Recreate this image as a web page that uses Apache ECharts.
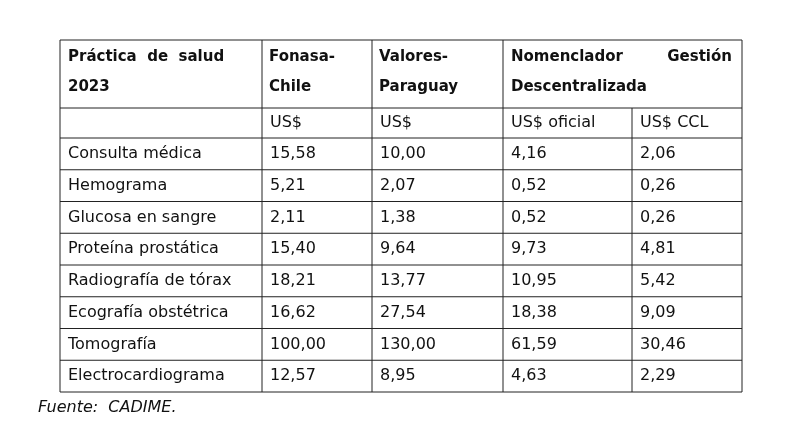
<!DOCTYPE html>
<html><head><meta charset="utf-8">
<script src="https://cdn.jsdelivr.net/npm/echarts@6/dist/echarts.min.js"></script>
<style>html,body{margin:0;background:#fff}#c{width:800px;height:436px}</style>
</head><body><div id="c"></div>
<script>
// table content
var practices = ['Consulta médica', 'Hemograma', 'Glucosa en sangre', 'Proteína prostática',
  'Radiografía de tórax', 'Ecografía obstétrica', 'Tomografía', 'Electrocardiograma'];
var fonasaChile = ['15,58', '5,21', '2,11', '15,40', '18,21', '16,62', '100,00', '12,57'];
var valoresParaguay = ['10,00', '2,07', '1,38', '9,64', '13,77', '27,54', '130,00', '8,95'];
var usdOficial = ['4,16', '0,52', '0,52', '9,73', '10,95', '18,38', '61,59', '4,63'];
var usdCcl = ['2,06', '0,26', '0,26', '4,81', '5,42', '9,09', '30,46', '2,29'];
var units = ['', 'US$', 'US$', 'US$ oficial', 'US$ CCL'];
var source = 'Fuente:  CADIME.';

(function () {
  var colX = [60, 262, 372, 503, 632, 742];
  var tableTop = 40, headerBottom = 108, unitsBottom = 138, rowH = 31.75;
  var chart = echarts.init(document.getElementById('c'));
  var g = [];
  function line(x1, y1, x2, y2) {
    g.push({type: 'line', shape: {x1: x1, y1: y1, x2: x2, y2: y2}, style: {stroke: '#222', lineWidth: 1}});
  }
  function text(x, y, s, bold, font) {
    g.push({type: 'text', x: x, y: y, style: {
      text: s, fill: '#111', verticalAlign: 'middle',
      font: font || ((bold ? 'bold 15px' : '16px') + ' "DejaVu Sans", sans-serif')
    }});
  }
  function textRight(x, y, s) {
    g.push({type: 'text', x: x, y: y, style: {
      text: s, fill: '#111', verticalAlign: 'middle', align: 'right',
      font: 'bold 15px "DejaVu Sans", sans-serif'
    }});
  }
  var bottom = unitsBottom + rowH * practices.length;
  line(colX[0], tableTop, colX[5], tableTop);
  line(colX[0], headerBottom, colX[5], headerBottom);
  line(colX[0], unitsBottom, colX[5], unitsBottom);
  for (var i = 1; i <= practices.length; i++) line(colX[0], unitsBottom + rowH * i, colX[5], unitsBottom + rowH * i);
  colX.forEach(function (x, j) {
    line(x, j === 4 ? headerBottom : tableTop, x, bottom);
  });
  text(68, 57, 'Práctica  de  salud', true);
  text(68, 87, '2023', true);
  text(269, 57, 'Fonasa-', true);
  text(269, 87, 'Chile', true);
  text(379, 57, 'Valores-', true);
  text(379, 87, 'Paraguay', true);
  text(511, 57, 'Nomenclador', true);
  textRight(732, 57, 'Gestión');
  text(511, 87, 'Descentralizada', true);
  units.forEach(function (u, j) { if (u) text(colX[j] + 8, 123, u, false); });
  var cols = [practices, fonasaChile, valoresParaguay, usdOficial, usdCcl];
  for (var r = 0; r < practices.length; r++) {
    for (var c = 0; c < cols.length; c++) {
      text(colX[c] + 8, unitsBottom + rowH * (r + 0.5), cols[c][r], false);
    }
  }
  text(38, 408, source, false, 'italic 16px "DejaVu Sans", sans-serif');
  chart.setOption({animation: false, graphic: {elements: g}});
})();
</script></body></html>
